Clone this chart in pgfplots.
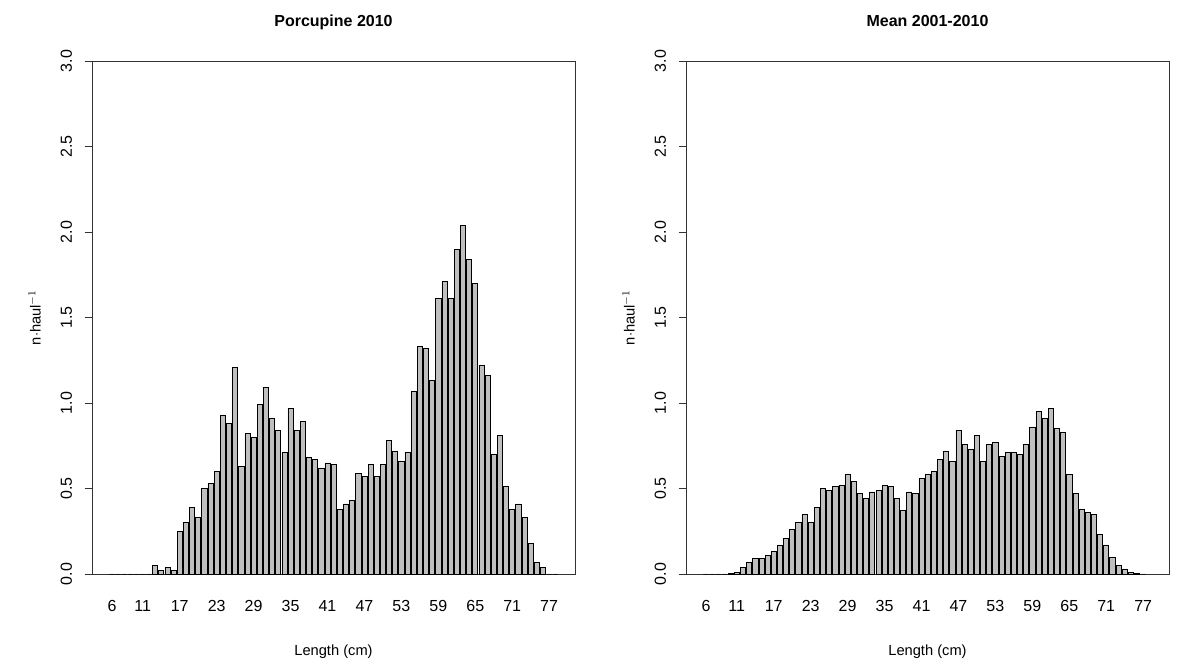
\documentclass[border=0pt]{standalone}
\usepackage{pgfplots}
\pgfplotsset{compat=1.18}
\usepackage{fontspec}
\setmainfont{Liberation Sans}
\pgfplotsset{
 rpanel/.style={
  scale only axis, width=362.25pt, height=384.75pt,
  xmin=2.75, xmax=81.2, ymin=0, ymax=3,
  axis line style={line width=0.6pt, draw=black!80},
  xtick={6,11,17,23,29,35,41,47,53,59,65,71,77},
  ytick={0,0.5,1,1.5,2,2.5,3},
  yticklabels={0.0,0.5,1.0,1.5,2.0,2.5,3.0},
  /pgf/number format/assume math mode=true,
  tick label style={font=\fontsize{12}{14}\selectfont},
  x tick label style={yshift=-16pt},
  xtick style={draw=none},
  ytick style={line width=0.6pt, draw=black!80},
  ytick align=outside, tick pos=left,
  major tick length=5.5pt,
  y tick label style={rotate=90, anchor=south},
  yticklabel style={yshift=6pt},
  xlabel={Length (cm)}, ylabel={n$\cdot$haul$^{-1}$},
  label style={font=\fontsize{11}{13}\selectfont},
  xlabel style={yshift=-18pt},
  ylabel style={yshift=8pt},
  title style={font=\bfseries\fontsize{12}{14}\selectfont, text height=9pt, text depth=3pt, yshift=13pt},
  clip=false,
 },
 rbar/.style={ybar, bar width=0.833, bar shift=0pt, fill=black!25, draw=black, line width=0.5pt}
}
\begin{document}
\begin{tikzpicture}[x=1pt,y=1pt]
\path (0,0) rectangle (887.25,498);
\begin{axis}[rpanel, at={(69pt,67.5pt)}, anchor=south west, title={Porcupine 2010}]
\addplot[rbar] coordinates {
(6,0)(7,0)(8,0)(9,0)(10,0)(11,0)(12,0)(13,0.05)(14,0.02)(15,0.04)(16,0.02)
(17,0.25)(18,0.30)(19,0.39)(20,0.33)(21,0.50)(22,0.53)(23,0.60)(24,0.93)(25,0.88)
(26,1.21)(27,0.63)(28,0.82)(29,0.80)(30,0.99)(31,1.09)(32,0.91)(33,0.84)(34,0.71)
(35,0.97)(36,0.84)(37,0.89)(38,0.68)(39,0.67)(40,0.62)(41,0.65)(42,0.64)(43,0.38)
(44,0.41)(45,0.43)(46,0.59)(47,0.57)(48,0.64)(49,0.57)(50,0.64)(51,0.78)(52,0.72)
(53,0.66)(54,0.71)(55,1.07)(56,1.33)(57,1.32)(58,1.13)(59,1.61)(60,1.71)(61,1.61)
(62,1.90)(63,2.04)(64,1.84)(65,1.70)(66,1.22)(67,1.16)(68,0.70)(69,0.81)(70,0.51)
(71,0.38)(72,0.41)(73,0.33)(74,0.18)(75,0.07)(76,0.04)(77,0)(78,0)};
\end{axis}
\begin{axis}[rpanel, at={(514.5pt,67.5pt)}, anchor=south west, title={Mean 2001-2010}]
\addplot[rbar] coordinates {
(6,0)(7,0)(8,0)(9,0)(10,0.005)(11,0.01)(12,0.04)(13,0.07)(14,0.09)(15,0.09)(16,0.11)
(17,0.13)(18,0.17)(19,0.21)(20,0.26)(21,0.30)(22,0.35)(23,0.30)(24,0.39)(25,0.50)
(26,0.49)(27,0.51)(28,0.52)(29,0.58)(30,0.54)(31,0.47)(32,0.44)(33,0.48)(34,0.49)
(35,0.52)(36,0.51)(37,0.44)(38,0.37)(39,0.48)(40,0.47)(41,0.56)(42,0.58)(43,0.60)
(44,0.67)(45,0.72)(46,0.66)(47,0.84)(48,0.76)(49,0.73)(50,0.81)(51,0.66)(52,0.76)
(53,0.77)(54,0.69)(55,0.71)(56,0.71)(57,0.70)(58,0.76)(59,0.86)(60,0.95)(61,0.91)
(62,0.97)(63,0.85)(64,0.83)(65,0.58)(66,0.47)(67,0.38)(68,0.36)(69,0.35)(70,0.23)
(71,0.17)(72,0.10)(73,0.05)(74,0.03)(75,0.01)(76,0.005)(77,0)};
\end{axis}
\end{tikzpicture}
\end{document}
